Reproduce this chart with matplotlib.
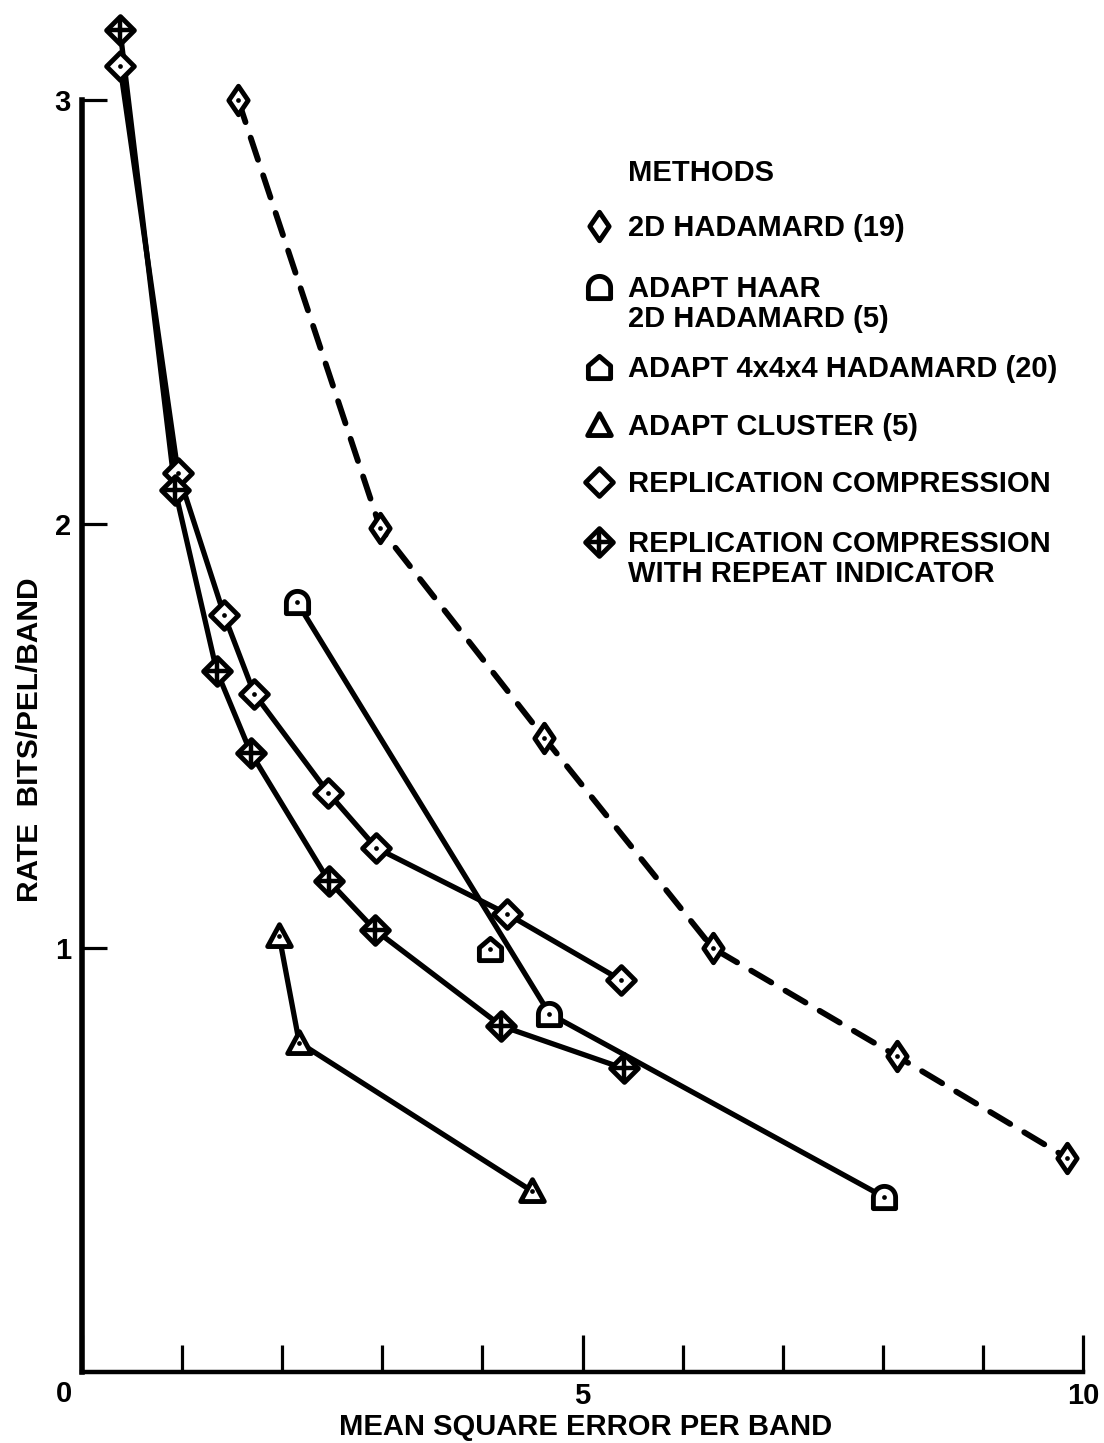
import matplotlib
matplotlib.use("Agg")
import matplotlib.pyplot as plt
from matplotlib.path import Path
from matplotlib.ticker import NullLocator
import numpy as np

# ---- data: mean square error per band vs. rate (bits/pel/band) ----
hadamard_2d_mse = [1.56, 2.98, 4.62, 6.30, 8.14, 9.84]
hadamard_2d_rate = [3.00, 1.99, 1.495, 1.00, 0.745, 0.505]

haar_mse = [2.15, 4.67, 8.01]
haar_rate = [1.815, 0.845, 0.413]

hadamard_444_mse = [4.08]
hadamard_444_rate = [0.997]

cluster_mse = [1.97, 2.17, 4.50]
cluster_rate = [1.028, 0.777, 0.426]

replication_mse = [0.38, 0.96, 1.42, 1.72, 2.46, 2.94, 4.25, 5.38]
replication_rate = [3.08, 2.12, 1.785, 1.60, 1.366, 1.236, 1.08, 0.925]

repeat_mse = [0.38, 0.93, 1.345, 1.685, 2.465, 2.93, 4.19, 5.41]
repeat_rate = [3.165, 2.08, 1.654, 1.461, 1.158, 1.042, 0.816, 0.716]

x_major = [0, 5, 10]
x_major_labels = ["", "5", "10"]
x_minor = [1, 2, 3, 4, 6, 7, 8, 9]
y_ticks = [1, 2, 3]
y_tick_labels = ["1", "2", "3"]

plt.rcParams["font.family"] = ["Liberation Sans", "DejaVu Sans"]
plt.rcParams["font.weight"] = "bold"

W, H = 1104, 1443
fig = plt.figure(figsize=(W / 100, H / 100), dpi=100)
L, R, T, B = 82, 1083, 100, 1372
ax = fig.add_axes([L / W, 1 - B / H, (R - L) / W, (B - T) / H])
ax.set_xlim(0, 10)
ax.set_ylim(0, 3)


def closed(verts):
    codes = [Path.MOVETO] + [Path.LINETO] * (len(verts) - 1) + [Path.CLOSEPOLY]
    return Path(list(verts) + [verts[0]], codes)


theta = np.linspace(np.pi, 0, 25)
MARKERS = {
    "thin": closed([(0, 1), (0.68, 0), (0, -1), (-0.68, 0)]),
    "diamond": closed([(0, 1), (1, 0), (0, -1), (-1, 0)]),
    "dome": closed([(-1, -1)] + list(zip(np.cos(theta), np.sin(theta))) + [(1, -1)]),
    "house": closed([(-1, -1), (-1, 0.15), (0, 1), (1, 0.15), (1, -1)]),
    "triangle": closed([(-1, -0.85), (0, 1), (1, -0.85)]),
}
SIZES = {"thin": 20.5, "diamond": 20, "dome": 16, "house": 16, "triangle": 17}
EDGE = 3.5


def draw_marks(axis, x, y, kind, cross=False, dot=True, z=3):
    axis.plot(x, y, ls="none", marker=MARKERS[kind], ms=SIZES[kind],
              mfc="white", mec="black", mew=EDGE, clip_on=False, zorder=z)
    if cross:
        axis.plot(x, y, ls="none", marker="+", ms=SIZES[kind] * 0.95,
                  mec="black", mew=3.2, clip_on=False, zorder=z + 1)
    elif dot:
        axis.plot(x, y, ls="none", marker="o", ms=3.4, mfc="black",
                  mec="black", mew=0, clip_on=False, zorder=z + 1)


def series(x, y, kind, dashed=False, cross=False):
    if len(x) > 1:
        if dashed:
            ax.plot(x, y, color="black", lw=4.2, ls=(0, (4, 2.8)),
                    dash_capstyle="round", clip_on=False, zorder=2)
        else:
            ax.plot(x, y, color="black", lw=3.8, solid_capstyle="round",
                    solid_joinstyle="round", clip_on=False, zorder=2)
    draw_marks(ax, x, y, kind, cross=cross)


series(hadamard_2d_mse, hadamard_2d_rate, "thin", dashed=True)
series(haar_mse, haar_rate, "dome")
series(hadamard_444_mse, hadamard_444_rate, "house")
series(cluster_mse, cluster_rate, "triangle")
series(replication_mse, replication_rate, "diamond")
series(repeat_mse, repeat_rate, "diamond", cross=True)

# ---- axes ----
for side in ("top", "right"):
    ax.spines[side].set_visible(False)
ax.spines["left"].set_linewidth(4.0)
ax.spines["bottom"].set_linewidth(3.2)
for side in ("left", "bottom"):
    ax.spines[side].set_capstyle("projecting")

ax.set_xticks(x_major, x_major_labels)
ax.set_xticks(x_minor, minor=True)
ax.set_yticks(y_ticks, y_tick_labels)
ax.yaxis.set_minor_locator(NullLocator())
ax.tick_params(axis="x", which="major", direction="in", length=27, width=2.3,
               pad=7, labelsize=21)
ax.tick_params(axis="x", which="minor", direction="in", length=19.5, width=2.3)
ax.tick_params(axis="y", direction="in", length=18, width=2.3, pad=8,
               labelsize=21)

# ---- overlay in pixel coordinates for labels and key ----
ov = fig.add_axes([0, 0, 1, 1])
ov.set_xlim(0, W)
ov.set_ylim(H, 0)
ov.axis("off")


def cap_text(x, yc, s, fs, weight="bold", ha="left", rotation=0):
    off = 0.5 * 0.716 * fs * 100 / 72
    if rotation == 90:
        ov.text(x + off, yc, s, fontsize=fs, fontweight=weight, ha="center",
                va="baseline", rotation=90, rotation_mode="anchor")
    else:
        ov.text(x, yc + off, s, fontsize=fs, fontweight=weight, ha=ha,
                va="baseline")


cap_text(64, 1392, "0", 21, ha="center")
cap_text(586, 1425, "MEAN SQUARE ERROR PER BAND", 21, ha="center")
cap_text(27, 740, "RATE  BITS/PEL/BAND", 21.5, rotation=90)

# key
KEY_X, TXT_X, FS = 599, 628, 21
cap_text(TXT_X, 171, "METHODS", FS)
key_rows = [
    ("thin", False, ["2D HADAMARD (19)"], [226]),
    ("dome", False, ["ADAPT HAAR", "2D HADAMARD (5)"], [287, 317]),
    ("house", False, ["ADAPT 4x4x4 HADAMARD (20)"], [367]),
    ("triangle", False, ["ADAPT CLUSTER (5)"], [425]),
    ("diamond", False, ["REPLICATION COMPRESSION"], [482]),
    ("diamond", True, ["REPLICATION COMPRESSION", "WITH REPEAT INDICATOR"], [542, 572]),
]
for kind, cross, lines, ys in key_rows:
    draw_marks(ov, [KEY_X], [ys[0]], kind, cross=cross, dot=False)
    for s, yy in zip(lines, ys):
        cap_text(TXT_X, yy, s, FS)

fig.savefig("out.png", dpi=100)
